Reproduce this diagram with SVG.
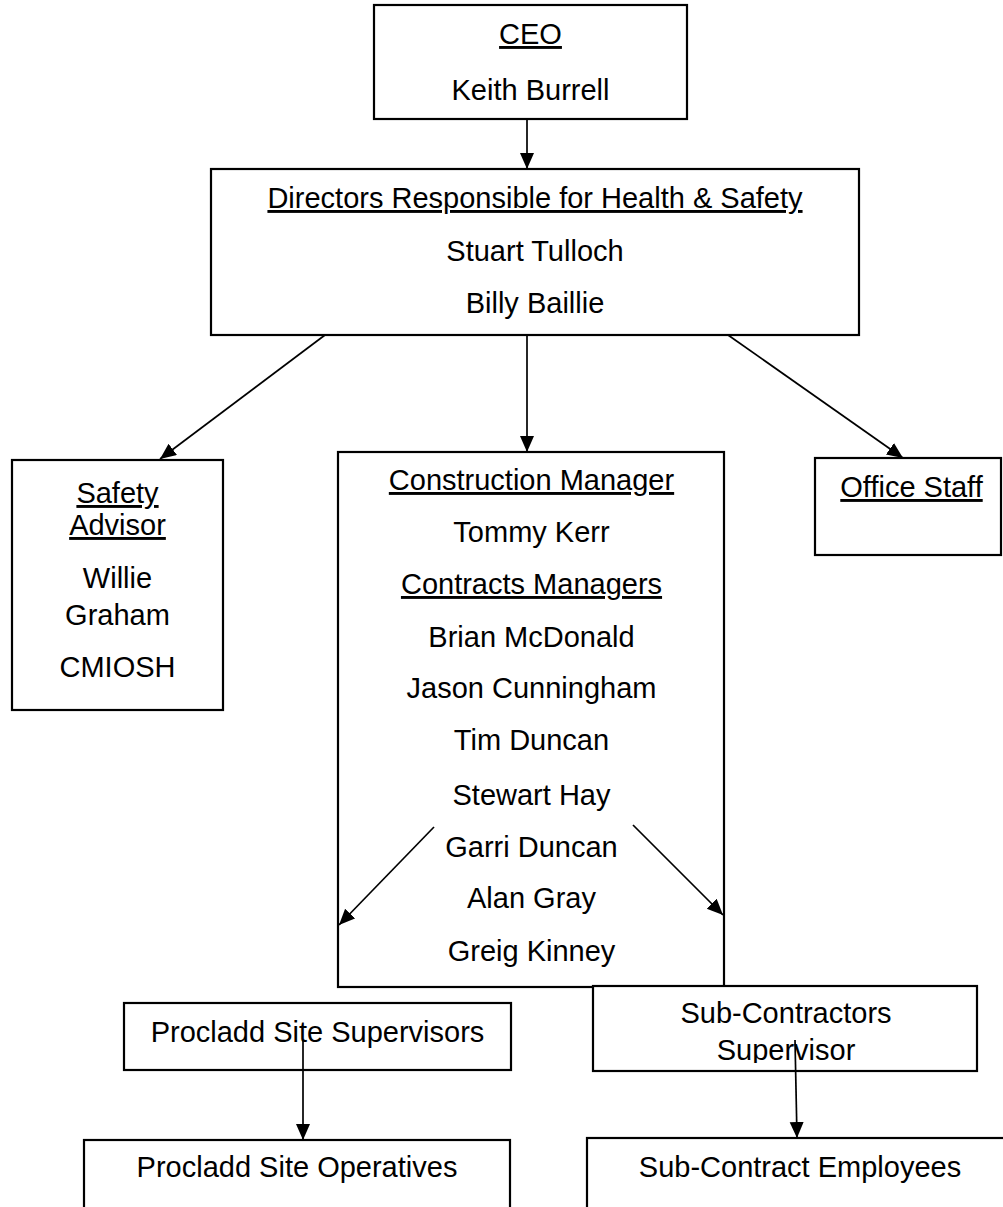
<svg xmlns="http://www.w3.org/2000/svg" width="1003" height="1207" viewBox="0 0 1003 1207">
<defs>
<style>
.box{fill:#fff;stroke:#000;stroke-width:2.2}
.t{font-family:"Liberation Sans",Arial,sans-serif;font-size:29px;fill:#000;text-anchor:middle}
.u{text-decoration:underline}
.c{stroke:#000;stroke-width:1.7;fill:none;marker-end:url(#ah)}
</style>
<marker id="ah" markerUnits="userSpaceOnUse" markerWidth="18" markerHeight="16" refX="16" refY="7" orient="auto">
<path d="M0,0 L16,7 L0,14 Z" fill="#000"/>
</marker>
<clipPath id="subclip"><rect x="593" y="986" width="384" height="77"/></clipPath>
</defs>
<rect width="1003" height="1207" fill="#fff"/>
<g id="ceo">
<rect class="box" x="374" y="5" width="313" height="114"/>
<text class="t u" x="530.5" y="44">CEO</text>
<text class="t" x="530.5" y="100">Keith Burrell</text>
</g>
<g id="directors">
<rect class="box" x="211" y="169" width="648" height="166"/>
<text class="t u" x="535" y="208">Directors Responsible for Health &amp; Safety</text>
<text class="t" x="535" y="261">Stuart Tulloch</text>
<text class="t" x="535" y="313">Billy Baillie</text>
</g>
<g id="safety-advisor">
<rect class="box" x="12" y="460" width="211" height="250"/>
<text class="t u" x="117.5" y="503">Safety</text>
<text class="t u" x="117.5" y="535">Advisor</text>
<text class="t" x="117.5" y="588">Willie</text>
<text class="t" x="117.5" y="625">Graham</text>
<text class="t" x="117.5" y="677">CMIOSH</text>
</g>
<g id="office-staff">
<rect class="box" x="815" y="458" width="186" height="97"/>
<text class="t u" x="911.5" y="497">Office Staff</text>
</g>
<g id="construction">
<rect class="box" x="338" y="452" width="386" height="535"/>
<text class="t u" x="531.5" y="490">Construction Manager</text>
<text class="t" x="531.5" y="542">Tommy Kerr</text>
<text class="t u" x="531.5" y="594">Contracts Managers</text>
<text class="t" x="531.5" y="647">Brian McDonald</text>
<text class="t" x="531.5" y="698">Jason Cunningham</text>
<text class="t" x="531.5" y="750">Tim Duncan</text>
<text class="t" x="531.5" y="805">Stewart Hay</text>
<text class="t" x="531.5" y="857">Garri Duncan</text>
<text class="t" x="531.5" y="908">Alan Gray</text>
<text class="t" x="531.5" y="961">Greig Kinney</text>
</g>
<g id="procladd-supervisors">
<rect class="box" x="124" y="1003" width="387" height="67"/>
<text class="t" x="317.5" y="1042">Procladd Site Supervisors</text>
</g>
<g id="subcontractors-supervisor">
<rect class="box" x="593" y="986" width="384" height="85"/>
<g clip-path="url(#subclip)">
<text class="t" x="786" y="1023">Sub-Contractors</text>
<text class="t" x="786" y="1060">Supervisor</text>
</g>
</g>
<g id="procladd-operatives">
<rect class="box" x="84" y="1140" width="426" height="100"/>
<text class="t" x="297" y="1177">Procladd Site Operatives</text>
</g>
<g id="subcontract-employees">
<rect class="box" x="587" y="1138" width="430" height="100"/>
<text class="t" x="800" y="1177">Sub-Contract Employees</text>
</g>
<g id="connectors">
<line class="c" x1="527" y1="119" x2="527" y2="169"/>
<line class="c" x1="325" y1="335" x2="160" y2="459"/>
<line class="c" x1="527" y1="335" x2="527" y2="452"/>
<line class="c" x1="728" y1="335" x2="903" y2="458"/>
<line class="c" x1="434" y1="827" x2="339" y2="925"/>
<line class="c" x1="633" y1="825" x2="723" y2="915"/>
<line class="c" x1="303" y1="1040" x2="303" y2="1140"/>
<line class="c" x1="795" y1="1040" x2="797" y2="1138"/>
</g>
</svg>
